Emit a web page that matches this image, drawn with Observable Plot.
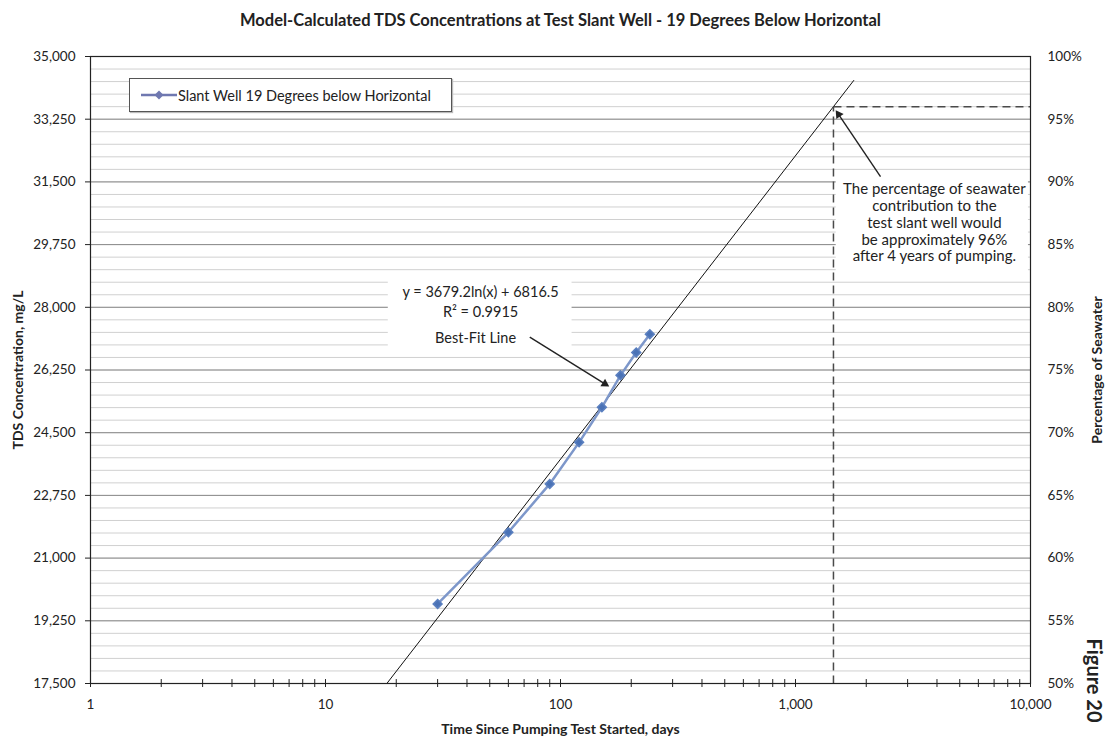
<!DOCTYPE html>
<html><head><meta charset="utf-8">
<script src="https://cdn.jsdelivr.net/npm/d3@7"></script>
<script src="https://cdn.jsdelivr.net/npm/@observablehq/plot@0.6"></script>
<style>
body{margin:0;background:#fff;font-family:Lato,"Open Sans",sans-serif;}
#wrap{position:relative;width:1109px;height:743px;}
#legend{position:absolute;left:129px;top:78px;width:321px;height:32px;border:1px solid #555;background:#fff;box-shadow:1px 1px 1px #bbb;display:flex;align-items:center;font-size:14.5px;color:#222;font-family:Lato,sans-serif;white-space:nowrap;}
#legend svg{margin-left:11px;margin-right:1px;}
</style></head>
<body><div id="wrap"></div>
<script>
// ---- data ----
const days = [30, 60, 90, 120, 150, 180, 210, 240];
const tds = [19720, 21720, 23070, 24230, 25210, 26100, 26740, 27250];
const seriesName = "Slant Well 19 Degrees below Horizontal";

// best-fit (logarithmic) trendline, as printed on the chart
const fitSlope = 3679.2;
const fitIntercept = 6816.5;
const fitR2 = "0.9915";
const trendEndDay = 1770;

// percentage axis: seawater TDS = 100%
const seawaterTDS = 35000;
const targetPct = 96;

// ticks
const yTicks = [17500, 19250, 21000, 22750, 24500, 26250, 28000, 29750, 31500, 33250, 35000];
const yMinorStep = 350;
const xTicks = [1, 10, 100, 1000, 10000];

// texts
const title = "Model-Calculated TDS Concentrations at Test Slant Well - 19 Degrees Below Horizontal";
const xTitle = "Time Since Pumping Test Started, days";
const yTitle = "TDS Concentration, mg/L";
const y2Title = "Percentage of Seawater";
const figLabel = "Figure 20";
const noteLines = ["The percentage of seawater", "contribution to the", "test slant well would", "be approximately 96%", "after 4 years of pumping."];

// annotation anchors (data space: days, mg/L)
const noteAnchor = [3900, 30370];
const noteBox = [1490, 9800, 29000, 31700];
const eqAnchorX = [45.7, 45.7, 43.5];
const eqAnchorY = [28421, 27863, 27129];
const eqBox = [18.5, 112, 26800, 28800];
const arrowFrom = [[2300, 31650], [74, 27170]];
const arrowTo = [[1490, 33480], [160, 25800]];

// ---- build tables ----
const series = days.map((d, i) => ({day: d, tds: tds[i]}));
const fitY = x => fitSlope * Math.log(x) + fitIntercept;
const trendStart = Math.exp((yTicks[0] - fitIntercept) / fitSlope);
const trend = [trendStart, trendEndDay].map(d => ({day: d, tds: fitY(d)}));
const targetTDS = seawaterTDS * targetPct / 100;
const targetDay = Math.exp((targetTDS - fitIntercept) / fitSlope);
const dashes = [
  {x1: targetDay, y1: yTicks[0], x2: targetDay, y2: targetTDS},
  {x1: targetDay, y1: targetTDS, x2: xTicks[xTicks.length - 1], y2: targetTDS}
];
const minorY = d3.range(yTicks[0], yTicks[yTicks.length - 1] + 1, yMinorStep);
const allX = [];
for (let k = 0; k < xTicks.length - 1; k++) for (let m = 1; m < 10; m++) allX.push(xTicks[k] * m);
allX.push(xTicks[xTicks.length - 1]);
const boxes = [
  {x1: noteBox[0], x2: noteBox[1], y1: noteBox[2], y2: noteBox[3]},
  {x1: eqBox[0], x2: eqBox[1], y1: eqBox[2], y2: eqBox[3]}
];
const eqTexts = [`y = ${fitSlope}ln(x) + ${fitIntercept}`, `R² = ${fitR2}`, "Best-Fit Line"]
  .map((t, i) => ({t, x: eqAnchorX[i], y: eqAnchorY[i]}));
const fmt = d3.format(",");

const layout = {
  width: 1109, height: 743,
  marginLeft: 90, marginRight: 79, marginTop: 56, marginBottom: 60,
  x: {type: "log", domain: [xTicks[0], xTicks[xTicks.length - 1]]},
  y: {domain: [yTicks[0], yTicks[yTicks.length - 1]]}
};
// probe the scales to orient the filled arrowheads
const probe = Plot.plot({...layout, marks: [Plot.frame()]});
const sx = probe.scale("x"), sy = probe.scale("y");
const headR = 4.2;
const arrowLines = [], arrowHeads = [];
arrowFrom.forEach((f, i) => {
  const t = arrowTo[i];
  const px1 = sx.apply(f[0]), py1 = sy.apply(f[1]), px2 = sx.apply(t[0]), py2 = sy.apply(t[1]);
  const dx = px2 - px1, dy = py2 - py1, len = Math.hypot(dx, dy);
  const ux = dx / len, uy = dy / len;
  const cx = px2 - ux * headR, cy = py2 - uy * headR;
  const hx = sx.invert(cx), hy = sy.invert(cy);
  arrowLines.push({x1: f[0], y1: f[1], x2: hx, y2: hy});
  arrowHeads.push({x: hx, y: hy, rot: Math.atan2(ux, -uy) * 180 / Math.PI});
});

const plot = Plot.plot({
  ...layout,
  style: {fontFamily: "Lato, 'Open Sans', sans-serif", fontSize: "13.5px", background: "white", color: "#222"},
  marks: [
    Plot.ruleY(minorY, {stroke: "#d0d0d0", strokeWidth: 1}),
    Plot.ruleY(yTicks, {stroke: "#8c8c8c", strokeWidth: 1}),
    Plot.rect(boxes, {x1: "x1", x2: "x2", y1: "y1", y2: "y2", fill: "white"}),
    Plot.line(trend, {x: "day", y: "tds", stroke: "#111", strokeWidth: 1}),
    Plot.link(dashes, {x1: "x1", y1: "y1", x2: "x2", y2: "y2", stroke: "#4a4a4a", strokeWidth: 1.5, strokeDasharray: "8,5"}),
    Plot.line(series, {x: "day", y: "tds", stroke: "#7d97ca", strokeWidth: 2.5}),
    Plot.dot(series, {x: "day", y: "tds", symbol: "diamond2", r: 4, fill: "#4a72b6", stroke: "#5b80c0"}),
    Plot.text(eqTexts, {x: "x", y: "y", text: "t", fontSize: 14.5, fill: "#222"}),
    Plot.text([noteLines.join("\n")], {x: () => noteAnchor[0], y: () => noteAnchor[1], text: d => d, lineHeight: 1.12, fontSize: 15, fill: "#222"}),
    Plot.link(arrowLines, {x1: "x1", y1: "y1", x2: "x2", y2: "y2", stroke: "#222", strokeWidth: 1.4}),
    Plot.dot(arrowHeads, {x: "x", y: "y", symbol: "triangle2", r: headR, rotate: "rot", fill: "#222"}),
    Plot.frame({stroke: "#222", strokeWidth: 1.2}),
    Plot.ruleX(allX, {y1: yTicks[0], y2: yTicks[0] + 110, stroke: "#222"}),
    Plot.axisY({anchor: "left", ticks: yTicks, tickFormat: fmt, tickSize: 5, tickPadding: 10, label: null}),
    Plot.axisY({anchor: "right", ticks: yTicks, tickFormat: d => Math.round(d / seawaterTDS * 100) + "%", tickSize: 0, tickPadding: 17, label: null}),
    Plot.axisX({ticks: allX, tickFormat: d => xTicks.includes(d) ? fmt(d) : "", tickSize: 4, tickPadding: 12, label: null}),
    Plot.text([title], {frameAnchor: "top", dy: -36, lineAnchor: "middle", fontWeight: "bold", fontSize: 16.5, fill: "#222"}),
    Plot.text([xTitle], {frameAnchor: "bottom", dy: 46, lineAnchor: "middle", fontWeight: "bold", fontSize: 14, fill: "#222"}),
    Plot.text([yTitle], {frameAnchor: "left", dx: -72, rotate: -90, textAnchor: "middle", lineAnchor: "middle", fontWeight: "bold", fontSize: 14, fill: "#222"}),
    Plot.text([y2Title], {frameAnchor: "right", dx: 67, rotate: -90, textAnchor: "middle", lineAnchor: "middle", fontWeight: "bold", fontSize: 14, fill: "#222"}),
    Plot.text([figLabel], {frameAnchor: "bottom-right", dx: 63, dy: -3, rotate: 90, textAnchor: "middle", lineAnchor: "middle", fontWeight: "bold", fontSize: 20, fill: "#222"})
  ]
});
const wrap = document.getElementById("wrap");
wrap.appendChild(plot);
const legend = document.createElement("div");
legend.id = "legend";
legend.innerHTML = `<svg width="36" height="12"><line x1="0" y1="6" x2="36" y2="6" stroke="#6f78b0" stroke-width="2.5"/><path d="M18 1.5 L22.5 6 L18 10.5 L13.5 6 Z" fill="#6f78b0"/></svg><span>${seriesName}</span>`;
wrap.appendChild(legend);
</script>
</body></html>
